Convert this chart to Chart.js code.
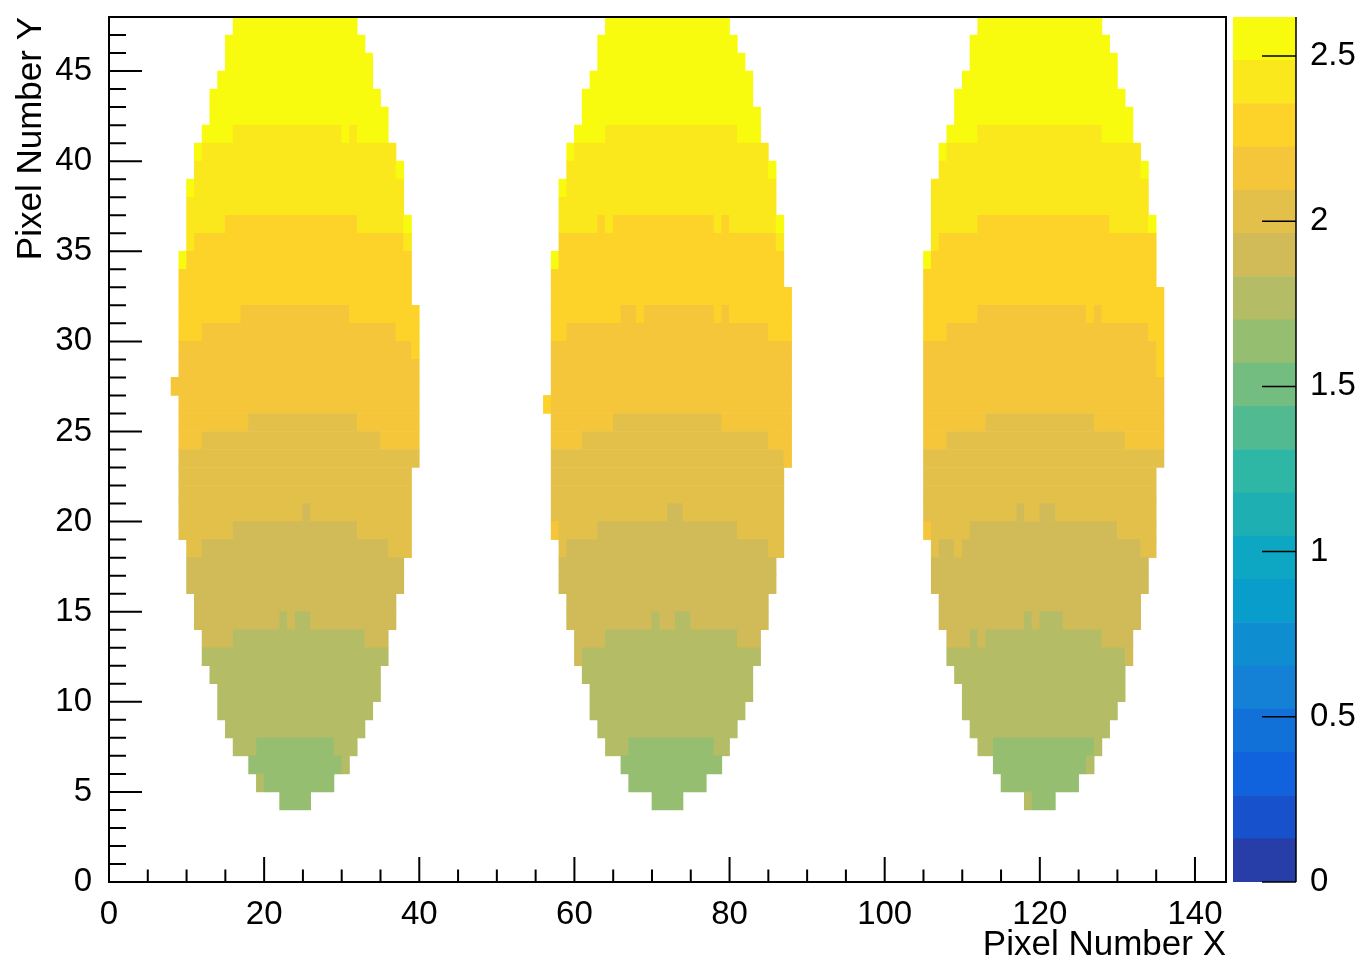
<!DOCTYPE html>
<html lang="en">
<head>
<meta charset="UTF-8">
<title>Pixel map</title>
<script src="https://cdn.jsdelivr.net/npm/chart.js"></script>
<style>
    body { margin: 0; background: #fff; }
    #wrap { position: relative; width: 1356px; height: 957px; }
    #mapCanvas { position: absolute; left: 0; top: 0; }
    #barCanvas { position: absolute; left: 1226px; top: 0; }
</style>
</head>
<body>
<div id="wrap">
    <canvas id="mapCanvas" width="1356" height="957"></canvas>
    <canvas id="barCanvas" width="130" height="957"></canvas>
</div>
<script>
// histogram rows (bin lower edge), top to bottom
const rowY = [47, 46, 45, 44, 43, 42, 41, 40, 39, 38, 37, 36, 35, 34, 33, 32, 31, 30, 29, 28, 27, 26,
              25, 24, 23, 22, 21, 20, 19, 18, 17, 16, 15, 14, 13, 12, 11, 10, 9, 8, 7, 6, 5, 4];

// each spot: first filled x bin of every row, then runs "count x contour level"
const leftStart = [16, 15, 15, 14, 13, 13, 12, 11, 11, 10, 10, 10, 10, 9, 9, 9, 9, 9, 9, 9, 8, 9,
                   9, 9, 9, 9, 9, 9, 9, 10, 10, 10, 11, 11, 12, 12, 13, 14, 14, 15, 16, 18, 19, 22];
const leftRuns = [
    '16x19', '18x19', '19x19', '20x19', '22x19', '23x19',
    '4x19 14x18 1x19 1x18 4x19', '1x19 25x18', '26x18 1x19', '1x19 27x18', '28x18',
    '5x18 17x17 6x18 1x19', '1x18 27x17 1x18', '1x19 29x17', '30x17', '30x17',
    '8x17 14x16 9x17', '3x17 25x16 3x17', '30x16 1x17', '31x16', '32x16', '31x16',
    '9x16 14x15 8x16', '3x16 23x15 5x16', '31x15', '30x15', '30x15', '16x15 1x14 13x15',
    '7x15 16x14 7x15', '2x15 24x14 3x15', '28x14', '28x14', '26x14',
    '11x14 1x13 1x14 2x13 11x14', '4x14 17x13 3x14', '24x13', '22x13', '21x13', '20x13', '18x13',
    '3x13 10x12 3x13', '12x12 1x13', '1x13 9x12', '4x12'
];

const midStart = [64, 63, 63, 62, 61, 61, 60, 59, 59, 58, 58, 58, 58, 57, 57, 57, 57, 57, 57, 57, 57, 56,
                  57, 57, 57, 57, 57, 57, 57, 58, 58, 58, 59, 59, 60, 60, 61, 62, 62, 63, 64, 66, 67, 70];
const midRuns = [
    '16x19', '18x19', '19x19', '21x19', '22x19', '23x19',
    '4x19 17x18 3x19', '1x19 25x18', '26x18 1x19', '1x19 27x18', '28x18',
    '5x18 1x17 1x18 13x17 1x18 1x17 6x18 1x19', '28x17 1x18', '1x19 29x17', '30x17', '31x17',
    '9x17 2x16 1x17 9x16 1x17 1x16 8x17', '2x17 26x16 3x17', '31x16', '31x16', '31x16', '1x17 31x16',
    '8x16 14x15 9x16', '4x16 24x15 3x16', '30x15 1x16', '30x15', '30x15', '15x15 2x14 13x15',
    '1x16 5x15 18x14 6x15', '1x15 26x14 2x15', '28x14', '28x14', '26x14',
    '11x14 1x13 2x14 2x13 10x14', '4x14 17x13 3x14', '1x14 23x13', '22x13', '21x13', '20x13', '18x13',
    '3x13 11x12 2x13', '13x12', '10x12', '4x12'
];

const rightStart = [112, 111, 111, 110, 109, 109, 108, 107, 107, 106, 106, 106, 106, 105, 105, 105, 105, 105, 105, 105, 105, 105,
                    105, 105, 105, 105, 105, 105, 105, 106, 106, 106, 107, 107, 108, 108, 109, 110, 110, 111, 112, 114, 115, 118];
const rightRuns = [
    '16x19', '18x19', '19x19', '20x19', '22x19', '23x19',
    '4x19 16x18 4x19', '1x19 25x18', '26x18 1x19', '28x18', '28x18',
    '6x18 17x17 5x18 1x19', '1x18 28x17', '1x19 29x17', '30x17', '31x17',
    '7x17 14x16 1x17 1x16 8x17', '3x17 26x16 2x17', '30x16 1x17', '30x16 1x17', '31x16', '31x16',
    '8x16 14x15 9x16', '3x16 23x15 5x16', '31x15', '30x15', '30x15', '12x15 1x14 2x15 2x14 13x15',
    '1x16 5x15 19x14 5x15', '1x15 2x14 1x15 23x14 2x15', '28x14', '28x14', '26x14',
    '11x14 1x13 1x14 3x13 10x14', '3x14 1x13 1x14 15x13 4x14', '23x13 1x14', '22x13', '21x13', '20x13', '18x13',
    '2x13 13x12 1x13', '12x12 1x13', '10x12', '1x13 3x12'
];

const xTickValues = [0, 20, 40, 60, 80, 100, 120, 140];
const yTickValues = [0, 5, 10, 15, 20, 25, 30, 35, 40, 45];
const zTickValues = [0, 0.5, 1, 1.5, 2, 2.5];
const xMax = 144;
const yMax = 48;
const zMax = 2.618;
const nLevels = 20;

// ROOT kBird palette
const birdStops = [0.0, 0.125, 0.25, 0.375, 0.5, 0.625, 0.75, 0.875, 1.0];
const birdR = [0.2082, 0.0592, 0.0780, 0.0232, 0.1802, 0.5301, 0.8186, 0.9956, 0.9764];
const birdG = [0.1664, 0.3599, 0.5041, 0.6419, 0.7178, 0.7492, 0.7328, 0.7862, 0.9832];
const birdB = [0.5293, 0.8684, 0.8385, 0.7914, 0.6425, 0.4662, 0.3499, 0.1968, 0.0539];

function birdColor(f) {
    let i = 0;
    while (i < birdStops.length - 2 && f > birdStops[i + 1]) i++;
    const t = (f - birdStops[i]) / (birdStops[i + 1] - birdStops[i]);
    const c = k => Math.round(255 * (k[i] + (k[i + 1] - k[i]) * t));
    return `rgb(${c(birdR)}, ${c(birdG)}, ${c(birdB)})`;
}

function levelColor(level) {
    const idx = Math.floor((level + 0.99) * 255 / nLevels);
    return birdColor(idx / 254);
}

// turn the runs into floating horizontal bars
const cells = [];
const cellColors = [];
function addSpot(starts, runs) {
    rowY.forEach((y, r) => {
        let x = starts[r];
        runs[r].split(' ').forEach(tok => {
            const [n, lvl] = tok.split('x').map(Number);
            cells.push({ y: y + 0.5, x: [x, x + n] });
            cellColors.push(levelColor(lvl));
            x += n;
        });
    });
}
addSpot(leftStart, leftRuns);
addSpot(midStart, midRuns);
addSpot(rightStart, rightRuns);

Chart.defaults.font.family = '"Liberation Sans", Arial, Helvetica, sans-serif';
Chart.defaults.color = '#000';

// keep the plot frame where the axes say, not where the end labels want it
function noEdgePadding(s) {
    s.paddingTop = 0;
    s.paddingBottom = 0;
    s.paddingLeft = 0;
    s.paddingRight = 0;
}

// ROOT style frame with ticks pointing inwards
const frameTicks = {
    id: 'frameTicks',
    afterDraw(chart) {
        const { ctx, chartArea: a, scales: { x, y } } = chart;
        ctx.save();
        ctx.strokeStyle = '#000';
        ctx.lineWidth = 2;
        ctx.strokeRect(a.left, a.top, a.right - a.left, a.bottom - a.top);
        ctx.beginPath();
        for (let v = 5; v < xMax; v += 5) {
            const px = x.getPixelForValue(v);
            const len = v % 20 === 0 ? 25 : 12.5;
            ctx.moveTo(px, a.bottom);
            ctx.lineTo(px, a.bottom - len);
        }
        for (let v = 1; v < yMax; v += 1) {
            const py = y.getPixelForValue(v);
            const len = v % 5 === 0 ? 33 : 17;
            ctx.moveTo(a.left, py);
            ctx.lineTo(a.left + len, py);
        }
        ctx.stroke();
        ctx.restore();
    }
};

const paletteAxis = {
    id: 'paletteAxis',
    afterDraw(chart) {
        const { ctx, chartArea: a, scales: { y } } = chart;
        ctx.save();
        ctx.strokeStyle = '#000';
        ctx.lineWidth = 1.5;
        ctx.beginPath();
        ctx.moveTo(a.right, a.top);
        ctx.lineTo(a.right, a.bottom);
        zTickValues.forEach(v => {
            const py = y.getPixelForValue(v);
            ctx.moveTo(a.right, py);
            ctx.lineTo(a.right - 34, py);
        });
        ctx.stroke();
        ctx.restore();
    }
};

new Chart(document.getElementById('mapCanvas'), {
    type: 'bar',
    data: {
        datasets: [{
            data: cells,
            backgroundColor: cellColors,
            borderWidth: 0,
            barPercentage: 1,
            categoryPercentage: 1
        }]
    },
    options: {
        indexAxis: 'y',
        responsive: false,
        animation: false,
        events: [],
        layout: { padding: { top: 17, right: 130, bottom: 0, left: 0 } },
        plugins: { legend: { display: false }, tooltip: { enabled: false } },
        scales: {
            x: {
                type: 'linear',
                min: 0,
                max: xMax,
                grid: { display: false },
                border: { display: false },
                afterBuildTicks: s => { s.ticks = xTickValues.map(v => ({ value: v })); },
                afterFit: s => { s.height = 75; noEdgePadding(s); },
                ticks: { padding: 5, font: { size: 33 }, color: '#000', maxRotation: 0, autoSkip: false },
                title: {
                    display: true, text: 'Pixel Number X', align: 'end', color: '#000',
                    font: { size: 35 }, padding: { top: 0, bottom: -9 }
                }
            },
            y: {
                type: 'linear',
                min: 0,
                max: yMax,
                offset: false,
                grid: { display: false, offset: false },
                border: { display: false },
                afterBuildTicks: s => { s.ticks = yTickValues.map(v => ({ value: v })); },
                afterFit: s => { s.width = 109; noEdgePadding(s); },
                ticks: { padding: 9, font: { size: 33 }, color: '#000', autoSkip: false },
                title: {
                    display: true, text: 'Pixel Number Y', align: 'end', color: '#000',
                    font: { size: 35 }, padding: { top: 10, bottom: 0 }
                }
            }
        }
    },
    plugins: [frameTicks]
});

// colour palette bar
const step = zMax / nLevels;
const paletteSets = [];
for (let i = 0; i < nLevels; i++) {
    paletteSets.push({
        data: [[i * step, (i + 1) * step]],
        backgroundColor: levelColor(i),
        borderWidth: 0,
        barPercentage: 1,
        categoryPercentage: 1,
        grouped: false
    });
}

new Chart(document.getElementById('barCanvas'), {
    type: 'bar',
    data: { labels: [''], datasets: paletteSets },
    options: {
        responsive: false,
        animation: false,
        events: [],
        layout: { padding: { top: 17, right: 0, bottom: 75, left: 7 } },
        plugins: { legend: { display: false }, tooltip: { enabled: false } },
        scales: {
            x: { display: false },
            y: {
                position: 'right',
                min: 0,
                max: zMax,
                grid: { display: false },
                border: { display: false },
                afterBuildTicks: s => { s.ticks = zTickValues.map(v => ({ value: v })); },
                afterFit: s => { s.width = 60; noEdgePadding(s); },
                ticks: { padding: 6, font: { size: 33 }, color: '#000', callback: v => String(v) }
            }
        }
    },
    plugins: [paletteAxis]
});
</script>
</body>
</html>
